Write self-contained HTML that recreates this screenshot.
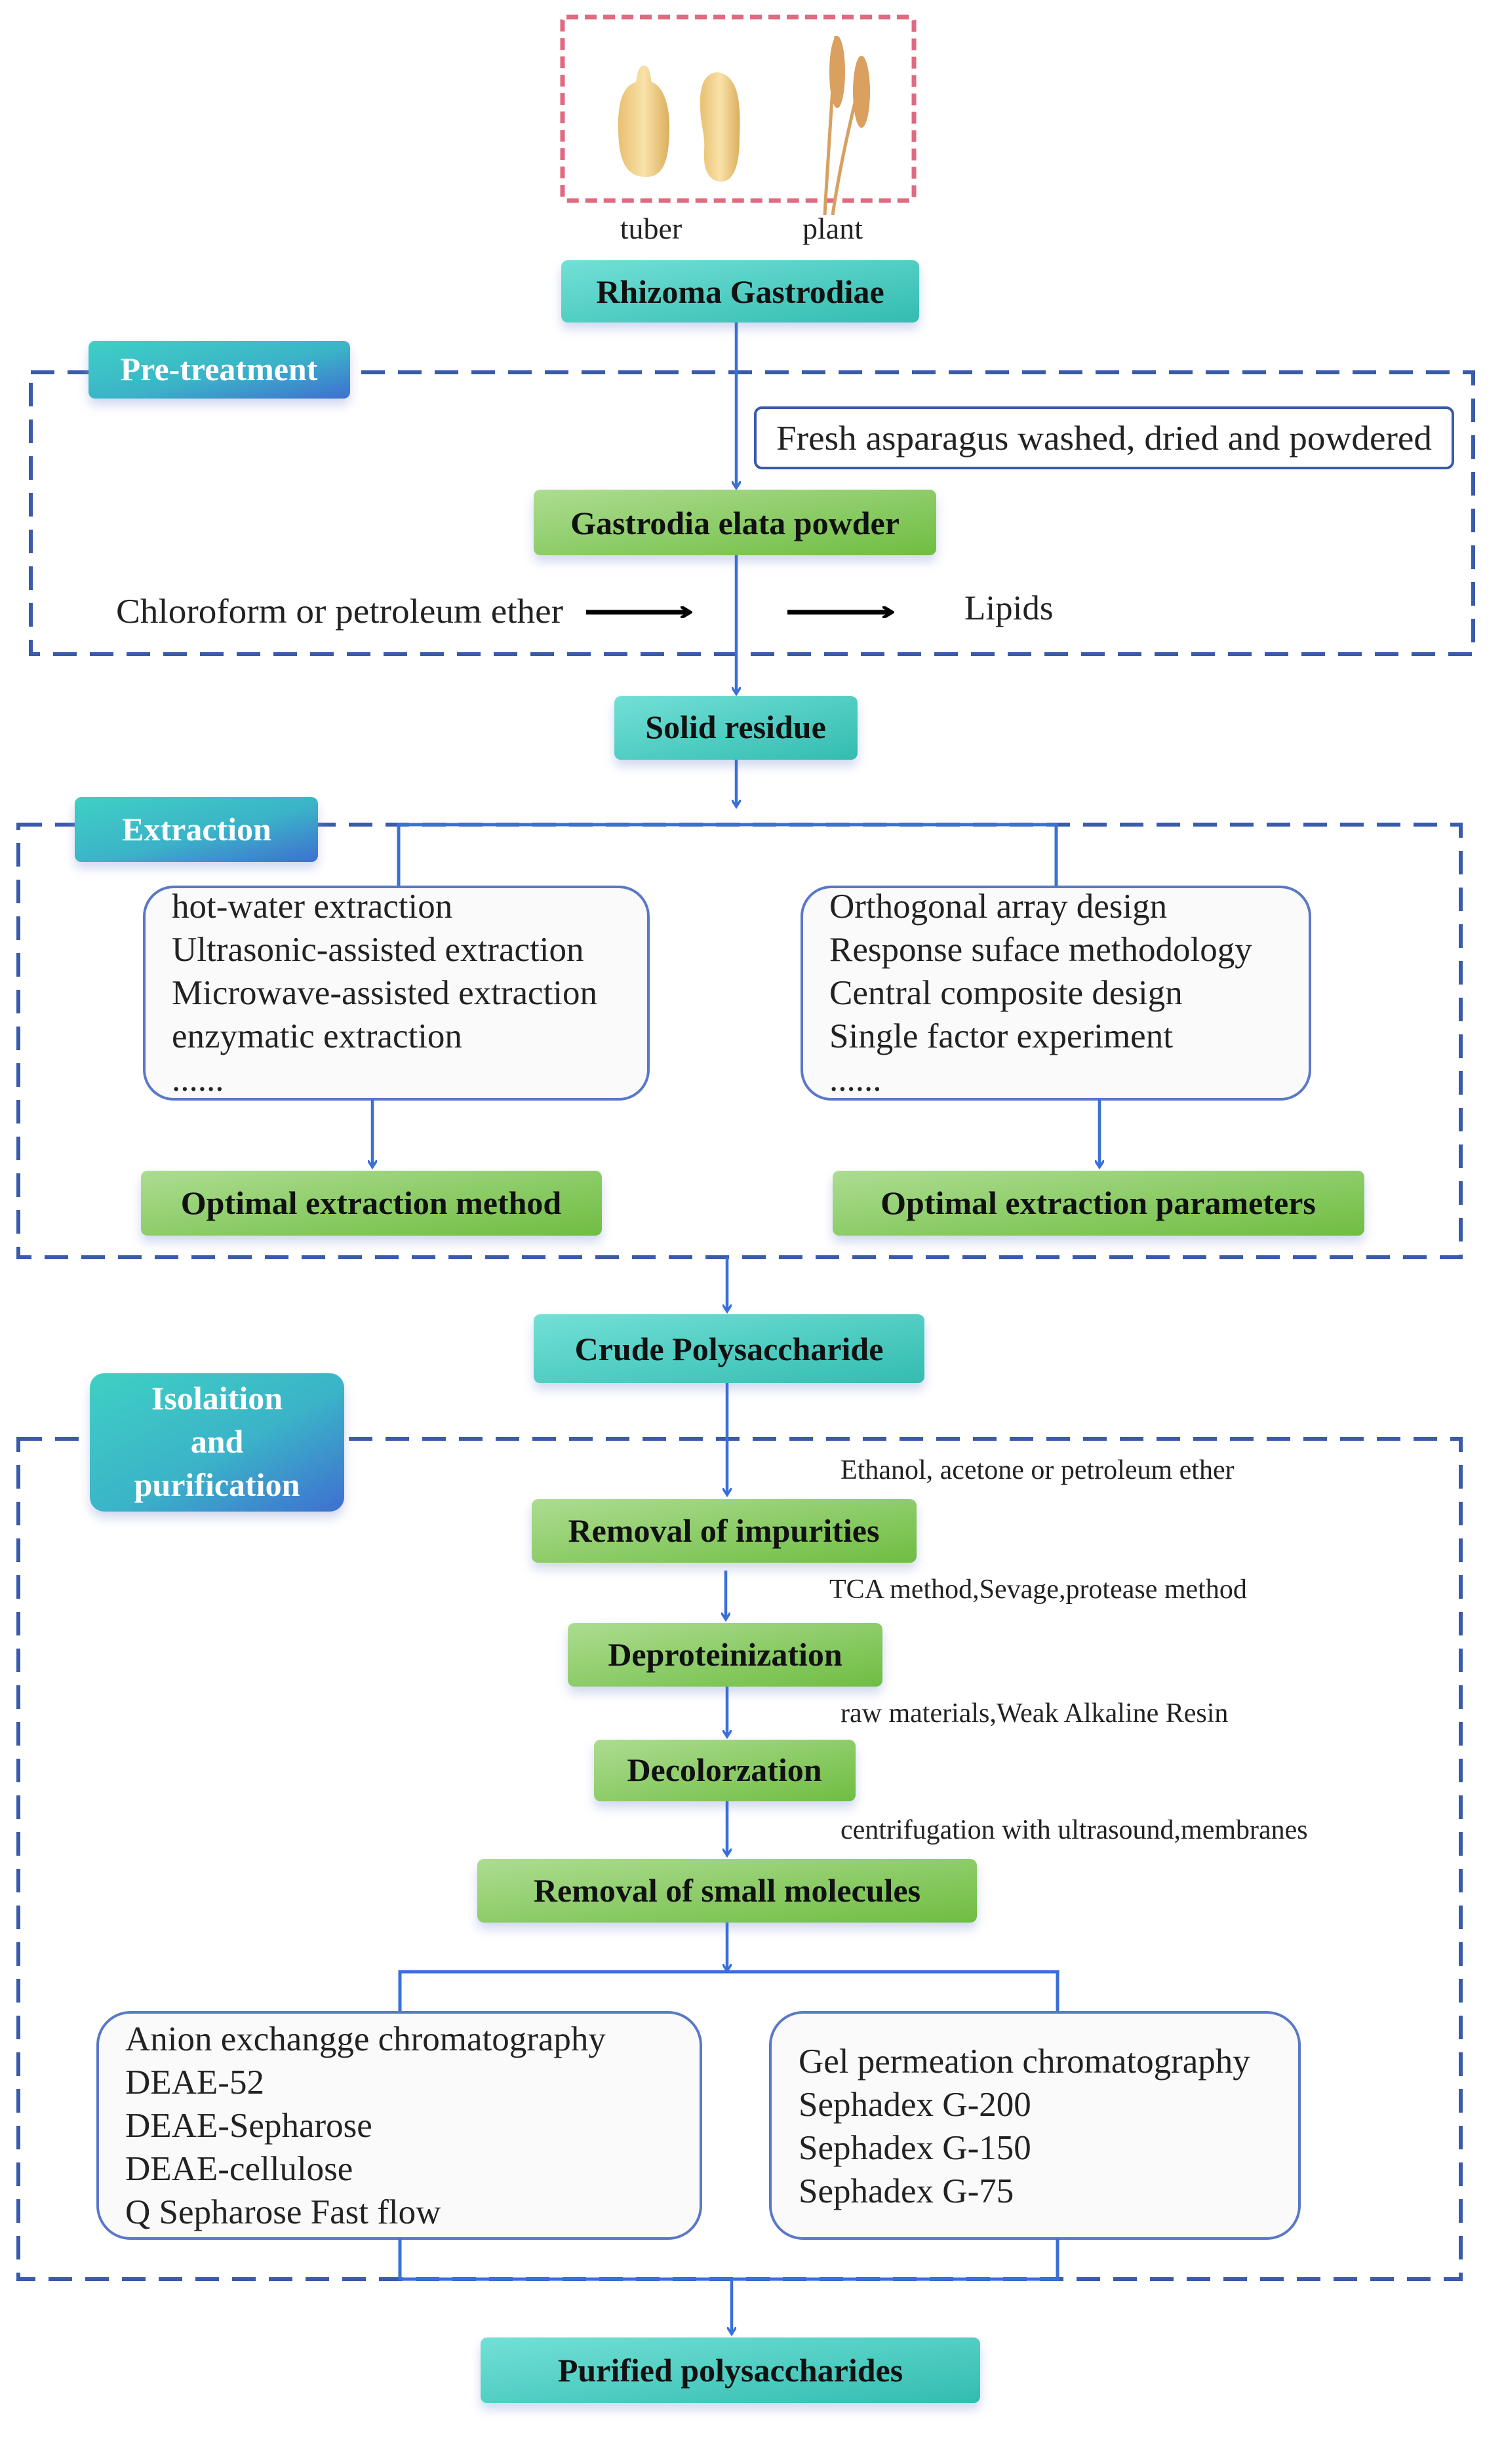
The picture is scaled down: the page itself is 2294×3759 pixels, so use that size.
<!DOCTYPE html>
<html><head><meta charset="utf-8"><style>
html,body{margin:0;padding:0;background:#fff;}
svg{display:block;}
text{font-family:"Liberation Serif",serif;}
.t{font-weight:bold;font-size:50px;fill:#111;text-anchor:middle;}
.l{font-weight:bold;font-size:50px;fill:#fff;text-anchor:middle;}
.n{font-size:53px;fill:#222;}
.s{font-size:42px;fill:#222;}
</style></head><body>
<svg width="2294" height="3759" viewBox="0 0 2294 3759" xmlns="http://www.w3.org/2000/svg">
<defs>
<linearGradient id="teal" x1="0" y1="0" x2="1" y2="1"><stop offset="0" stop-color="#72e0d6"/><stop offset="1" stop-color="#33bcb0"/></linearGradient>
<linearGradient id="green" x1="0" y1="0" x2="1" y2="1"><stop offset="0" stop-color="#acdc90"/><stop offset="1" stop-color="#6fbd42"/></linearGradient>
<linearGradient id="lab" x1="0" y1="0" x2="1" y2="1"><stop offset="0" stop-color="#3fd0c4"/><stop offset="0.55" stop-color="#3ab3c8"/><stop offset="1" stop-color="#3f6fd0"/></linearGradient>
<linearGradient id="tub" x1="0" y1="0" x2="1" y2="0"><stop offset="0" stop-color="#e8c070"/><stop offset="0.5" stop-color="#f8e2a8"/><stop offset="1" stop-color="#dcae5c"/></linearGradient>
<filter id="sh" x="-10%" y="-20%" width="120%" height="160%"><feDropShadow dx="0" dy="10" stdDeviation="8" flood-color="#9ad" flood-opacity="0.45"/></filter>
<marker id="ar" markerWidth="14" markerHeight="14" refX="10" refY="7" orient="auto" markerUnits="userSpaceOnUse"><path d="M0,0 L11,7 L0,14" fill="none" stroke="#3a6fd8" stroke-width="3.5"/></marker>
<marker id="ak" markerWidth="18" markerHeight="18" refX="14" refY="9" orient="auto" markerUnits="userSpaceOnUse"><path d="M0,0 L15,9 L0,18" fill="none" stroke="#000" stroke-width="5"/></marker>
</defs>

<rect x="858" y="26" width="536" height="280" rx="6" fill="none" stroke="#e06a80" stroke-width="7" stroke-dasharray="18,10"/>
<path d="M982,100 C972,100 972,118 970,125 C948,132 942,160 943,200 C944,245 955,270 985,270 C1012,270 1020,245 1021,200 C1022,160 1012,132 994,125 C992,118 992,100 982,100Z" fill="url(#tub)"/>
<path d="M1094,110 C1075,112 1067,130 1068,160 C1068,190 1076,205 1074,230 C1072,260 1082,277 1100,277 C1120,277 1128,250 1128,210 C1130,160 1128,115 1094,110Z" fill="url(#tub)"/>
<g stroke="#d8a060" stroke-width="5" fill="none">
<path d="M1258,328 C1262,250 1268,180 1275,55"/>
<path d="M1270,328 C1280,260 1295,190 1318,100"/>
</g>
<g fill="#d9a060">
<ellipse cx="1277" cy="110" rx="12" ry="55"/>
<ellipse cx="1314" cy="140" rx="13" ry="55"/>
</g>
<text x="993" y="364" font-size="46" fill="#222" text-anchor="middle">tuber</text>
<text x="1270" y="364" font-size="46" fill="#222" text-anchor="middle">plant</text>

<rect x="856" y="397" width="546" height="95" rx="10" fill="url(#teal)" filter="url(#sh)"/>
<text class="t" x="1129" y="462">Rhizoma Gastrodiae</text>

<rect x="47" y="568" width="2200" height="430" fill="none" stroke="#3a5aaa" stroke-width="6" stroke-dasharray="36,20"/>
<rect x="135" y="520" width="399" height="88" rx="10" fill="url(#lab)" filter="url(#sh)"/>
<text class="l" x="334" y="580">Pre-treatment</text>

<line x1="1123" y1="492" x2="1123" y2="744" stroke="#3a6fd8" stroke-width="4.5" marker-end="url(#ar)"/>
<rect x="1152" y="622" width="1064" height="92" rx="10" fill="#fff" stroke="#3a5aaa" stroke-width="4"/>
<text class="n" x="1184" y="686" textLength="1000" lengthAdjust="spacingAndGlyphs">Fresh asparagus washed, dried and powdered</text>

<rect x="814" y="747" width="614" height="100" rx="10" fill="url(#green)" filter="url(#sh)"/>
<text class="t" x="1121" y="815">Gastrodia elata powder</text>

<text class="n" x="177" y="950" textLength="682" lengthAdjust="spacingAndGlyphs">Chloroform or petroleum ether</text>
<line x1="894" y1="934" x2="1052" y2="934" stroke="#000" stroke-width="7" marker-end="url(#ak)"/>
<line x1="1201" y1="934" x2="1360" y2="934" stroke="#000" stroke-width="7" marker-end="url(#ak)"/>
<text class="n" x="1471" y="945">Lipids</text>
<line x1="1123" y1="847" x2="1123" y2="1058" stroke="#3a6fd8" stroke-width="4.5" marker-end="url(#ar)"/>

<rect x="937" y="1062" width="371" height="97" rx="10" fill="url(#teal)" filter="url(#sh)"/>
<text class="t" x="1122" y="1126">Solid residue</text>
<line x1="1123" y1="1159" x2="1123" y2="1230" stroke="#3a6fd8" stroke-width="4.5" marker-end="url(#ar)"/>

<rect x="28" y="1258" width="2200" height="660" fill="none" stroke="#3a5aaa" stroke-width="6" stroke-dasharray="36,20"/>
<rect x="114" y="1216" width="371" height="99" rx="10" fill="url(#lab)" filter="url(#sh)"/>
<text class="l" x="300" y="1282">Extraction</text>
<polyline points="608,1353 608,1258 1611,1258 1611,1353" fill="none" stroke="#3a6fd8" stroke-width="5"/>

<rect x="220" y="1353" width="769" height="324" rx="45" fill="#fafafa" stroke="#5a78c8" stroke-width="4"/>
<text class="n" x="262" y="1400">hot-water extraction</text>
<text class="n" x="262" y="1466">Ultrasonic-assisted extraction</text>
<text class="n" x="262" y="1532">Microwave-assisted extraction</text>
<text class="n" x="262" y="1598">enzymatic extraction</text>
<text class="n" x="262" y="1664">......</text>

<rect x="1223" y="1353" width="775" height="324" rx="45" fill="#fafafa" stroke="#5a78c8" stroke-width="4"/>
<text class="n" x="1265" y="1400">Orthogonal array design</text>
<text class="n" x="1265" y="1466">Response suface methodology</text>
<text class="n" x="1265" y="1532">Central composite design</text>
<text class="n" x="1265" y="1598">Single factor experiment</text>
<text class="n" x="1265" y="1664">......</text>

<line x1="568" y1="1677" x2="568" y2="1780" stroke="#3a6fd8" stroke-width="4.5" marker-end="url(#ar)"/>
<line x1="1677" y1="1677" x2="1677" y2="1780" stroke="#3a6fd8" stroke-width="4.5" marker-end="url(#ar)"/>
<rect x="215" y="1786" width="703" height="99" rx="10" fill="url(#green)" filter="url(#sh)"/>
<text class="t" x="566" y="1852">Optimal extraction method</text>
<rect x="1270" y="1786" width="811" height="99" rx="10" fill="url(#green)" filter="url(#sh)"/>
<text class="t" x="1675" y="1852">Optimal extraction parameters</text>

<line x1="1109" y1="1918" x2="1109" y2="2000" stroke="#3a6fd8" stroke-width="4.5" marker-end="url(#ar)"/>
<rect x="814" y="2005" width="596" height="105" rx="10" fill="url(#teal)" filter="url(#sh)"/>
<text class="t" x="1112" y="2075">Crude Polysaccharide</text>

<rect x="28" y="2195" width="2200" height="1282" fill="none" stroke="#3a5aaa" stroke-width="6" stroke-dasharray="36,20"/>
<rect x="137" y="2095" width="388" height="211" rx="22" fill="url(#lab)" filter="url(#sh)"/>
<text class="l" x="331" y="2150">Isolaition</text>
<text class="l" x="331" y="2216">and</text>
<text class="l" x="331" y="2282">purification</text>

<line x1="1109" y1="2110" x2="1109" y2="2280" stroke="#3a6fd8" stroke-width="4.5" marker-end="url(#ar)"/>
<text class="s" x="1282" y="2256">Ethanol, acetone or petroleum ether</text>
<rect x="811" y="2287" width="587" height="97" rx="10" fill="url(#green)" filter="url(#sh)"/>
<text class="t" x="1104" y="2352">Removal of impurities</text>
<line x1="1107" y1="2396" x2="1107" y2="2470" stroke="#3a6fd8" stroke-width="4.5" marker-end="url(#ar)"/>
<text class="s" x="1265" y="2438">TCA method,Sevage,protease method</text>
<rect x="866" y="2476" width="480" height="97" rx="10" fill="url(#green)" filter="url(#sh)"/>
<text class="t" x="1106" y="2541">Deproteinization</text>
<line x1="1109" y1="2573" x2="1109" y2="2649" stroke="#3a6fd8" stroke-width="4.5" marker-end="url(#ar)"/>
<text class="s" x="1282" y="2627">raw materials,Weak Alkaline Resin</text>
<rect x="906" y="2654" width="399" height="94" rx="10" fill="url(#green)" filter="url(#sh)"/>
<text class="t" x="1105" y="2717">Decolorzation</text>
<line x1="1109" y1="2748" x2="1109" y2="2830" stroke="#3a6fd8" stroke-width="4.5" marker-end="url(#ar)"/>
<text class="s" x="1282" y="2805">centrifugation with ultrasound,membranes</text>
<rect x="728" y="2836" width="762" height="97" rx="10" fill="url(#green)" filter="url(#sh)"/>
<text class="t" x="1109" y="2901">Removal of small molecules</text>
<line x1="1109" y1="2933" x2="1109" y2="3006" stroke="#3a6fd8" stroke-width="4.5" marker-end="url(#ar)"/>
<polyline points="610,3070 610,3008 1613,3008 1613,3070" fill="none" stroke="#3a6fd8" stroke-width="5"/>

<rect x="149" y="3070" width="920" height="345" rx="50" fill="#fafafa" stroke="#5a78c8" stroke-width="4"/>
<text class="n" x="191" y="3128">Anion exchangge chromatography</text>
<text class="n" x="191" y="3194">DEAE-52</text>
<text class="n" x="191" y="3260">DEAE-Sepharose</text>
<text class="n" x="191" y="3326">DEAE-cellulose</text>
<text class="n" x="191" y="3392">Q Sepharose Fast flow</text>

<rect x="1175" y="3070" width="807" height="345" rx="50" fill="#fafafa" stroke="#5a78c8" stroke-width="4"/>
<text class="n" x="1218" y="3162">Gel permeation chromatography</text>
<text class="n" x="1218" y="3228">Sephadex G-200</text>
<text class="n" x="1218" y="3294">Sephadex G-150</text>
<text class="n" x="1218" y="3360">Sephadex G-75</text>

<polyline points="610,3415 610,3477 1613,3477 1613,3415" fill="none" stroke="#3a6fd8" stroke-width="5"/>
<line x1="1116" y1="3477" x2="1116" y2="3560" stroke="#3a6fd8" stroke-width="4.5" marker-end="url(#ar)"/>
<rect x="733" y="3566" width="762" height="100" rx="10" fill="url(#teal)" filter="url(#sh)"/>
<text class="t" x="1114" y="3633">Purified polysaccharides</text>
</svg>
</body></html>
